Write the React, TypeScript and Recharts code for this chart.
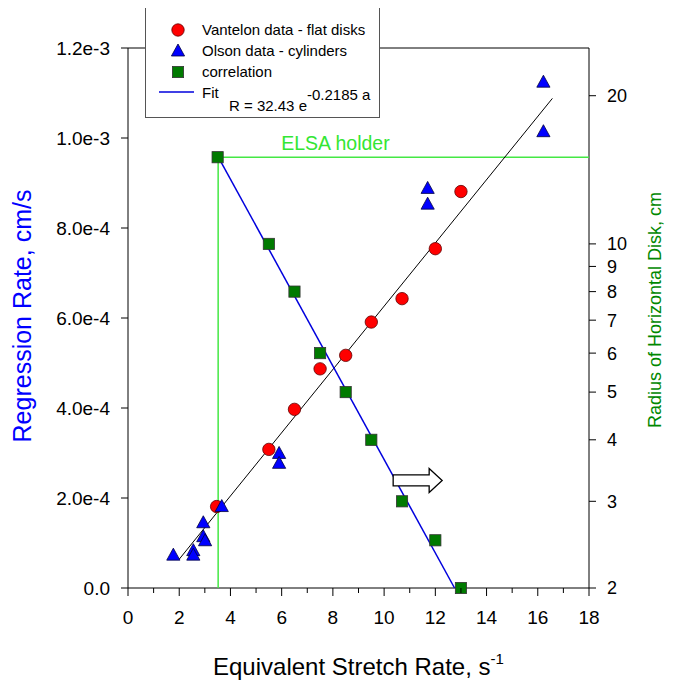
import React from "react";
import { ComposedChart, Scatter, XAxis, YAxis, ReferenceDot, Label } from "recharts";

// Vantelon data - flat disks (stretch rate s^-1, regression rate cm/s)
const vantelonX = [3.46, 5.5, 6.5, 7.5, 8.5, 9.5, 10.7, 12.0, 13.0];
const vantelonY = [1.81e-4, 3.08e-4, 3.97e-4, 4.87e-4, 5.17e-4, 5.91e-4, 6.43e-4, 7.54e-4, 8.81e-4];

// Olson data - cylinders
const olsonX = [1.77, 2.55, 2.55, 2.94, 2.94, 3.01, 3.66, 5.9, 5.9, 11.7, 11.7, 16.22, 16.22];
const olsonY = [0.73e-4, 0.83e-4, 0.73e-4, 1.45e-4, 1.14e-4, 1.05e-4, 1.81e-4, 2.99e-4, 2.77e-4, 8.88e-4, 8.53e-4, 1.124e-3, 1.014e-3];

// correlation: disk radius (cm) vs stretch rate
const corrX = [3.5, 5.5, 6.5, 7.5, 8.5, 9.5, 10.7, 12.0, 13.0];
const corrR = [15, 10, 8, 6, 5, 4, 3, 2.5, 2];

// linear fit through regression data
const rateFitX = [2.0, 16.57];
const rateFitY = [0.64e-4, 1.088e-3];

// R = 32.43 e^-0.2185 a
const radiusFitX = [3.5, 12.75];
const radiusFitR = [15.1, 2.0];

// ELSA holder guide lines
const elsaX = [3.52, 3.52, 18];
const elsaR = [2, 15, 15];

const xTicks = [0, 1, 2, 3, 4, 5, 6, 7, 8, 9, 10, 11, 12, 13, 14, 15, 16, 17, 18];
const leftTicks = [0, 0.0002, 0.0004, 0.0006, 0.0008, 0.001, 0.0012];
const rightTicks = [2, 3, 4, 5, 6, 7, 8, 9, 10, 20];

const FONT = "'Liberation Sans', Arial, Helvetica, sans-serif";

const toPoints = (xs: number[], ys: number[]) => xs.map((x, i) => ({ x, y: ys[i] }));

const fmtLeft = (v: number) => (v === 0 ? "0.0" : v.toExponential(1));

const BottomTick = (props: any) => {
  const { x, y, payload } = props;
  const v = payload.value;
  const major = v % 2 === 0;
  return (
    <g>
      <line x1={x} x2={x} y1={y} y2={y + (major ? 8 : 5)} stroke="#000" />
      {major && (
        <text x={x} y={y + 36} textAnchor="middle" fontSize={19} fontFamily={FONT} fill="#000">
          {v}
        </text>
      )}
    </g>
  );
};

const TopTick = (props: any) => {
  const { x, y, payload } = props;
  const major = payload.value % 2 === 0;
  return <line x1={x} x2={x} y1={y} y2={y - (major ? 7 : 4)} stroke="#000" />;
};

const circleShape = (p: any) => (
  <circle cx={p.cx} cy={p.cy} r={6.2} fill="#ff0000" stroke="#600000" strokeWidth={0.8} />
);
const triangleShape = (p: any) => (
  <polygon
    points={`${p.cx},${p.cy - 7} ${p.cx - 6.6},${p.cy + 5} ${p.cx + 6.6},${p.cy + 5}`}
    fill="#0000ff"
    stroke="#000040"
    strokeWidth={0.8}
  />
);
const squareShape = (p: any) => (
  <rect x={p.cx - 5.6} y={p.cy - 5.6} width={11.2} height={11.2} fill="#007a00" stroke="#333" strokeWidth={0.8} />
);
const noShape = () => <g />;

const arrowShape = (p: any) => {
  const { cx, cy } = p;
  const pts = [
    [-24.5, -5.5], [11.5, -5.5], [11.5, -12], [24.5, 0], [11.5, 12], [11.5, 5.5], [-24.5, 5.5],
  ].map(([dx, dy]) => `${cx + dx},${cy + dy}`).join(" ");
  return <polygon points={pts} fill="#fff" stroke="#000" strokeWidth={1.3} />;
};

const elsaText = (p: any) => (
  <text x={p.cx} y={p.cy} textAnchor="middle" dominantBaseline="central" fontSize={19.5} fontFamily={FONT} fill="#33e633">
    ELSA holder
  </text>
);

const LeftTitle = () => (
  <text transform="rotate(-90, 23, 308)" x={23} y={308} textAnchor="middle" fontSize={25} fontFamily={FONT} fill="#0000ff">
    Regression Rate, cm/s
  </text>
);
const RightTitle = () => (
  <text transform="rotate(-90, 653, 302)" x={653} y={302} textAnchor="middle" fontSize={18} fontFamily={FONT} fill="#008800">
    Radius of Horizontal Disk, cm
  </text>
);
const BottomTitle = () => (
  <text x={205} y={667} fontSize={24} fontFamily={FONT} fill="#000">
    Equivalent Stretch Rate, s
    <tspan fontSize={15} dy={-11}>-1</tspan>
  </text>
);

const LegendBox = () => (
  <svg
    width={260}
    height={120}
    style={{ position: "absolute", left: 137, top: -3, overflow: "visible", pointerEvents: "none" }}
  >
    <rect x={0.5} y={0.5} width={234} height={112} fill="#fff" stroke="#555" />
    <g fontFamily={FONT} fontSize={15} fill="#000">
      <circle cx={33} cy={25} r={6.2} fill="#ff0000" stroke="#600000" strokeWidth={0.8} />
      <text x={57} y={30}>Vantelon data - flat disks</text>
      <polygon points="33,39 26.4,51 39.6,51" fill="#0000ff" stroke="#000040" strokeWidth={0.8} />
      <text x={57} y={51}>Olson data - cylinders</text>
      <rect x={27.4} y={61.4} width={11.2} height={11.2} fill="#007a00" stroke="#333" strokeWidth={0.8} />
      <text x={57} y={72}>correlation</text>
      <line x1={14} x2={49} y1={87} y2={87} stroke="#0000dd" strokeWidth={1.5} />
      <text x={57} y={93}>Fit</text>
      <text x={84} y={106}>
        R = 32.43 e
        <tspan fontSize={15} dy={-11}>-0.2185 a</tspan>
      </text>
    </g>
  </svg>
);

export default function App() {
  return (
    <div style={{ position: "relative", width: 673, height: 680 }}>
      <ComposedChart
        width={673}
        height={680}
        margin={{ top: 30, right: 32, bottom: 60, left: 50 }}
        style={{ fontFamily: FONT }}
      >
        <XAxis
          xAxisId="b"
          dataKey="x"
          type="number"
          domain={[0, 18]}
          ticks={xTicks}
          interval={0}
          height={40}
          tickSize={0}
          tickMargin={0}
          tickLine={false}
          tick={BottomTick}
          stroke="#000"
        >
          <Label content={BottomTitle} />
        </XAxis>
        <XAxis
          xAxisId="t"
          orientation="top"
          dataKey="x"
          type="number"
          domain={[0, 18]}
          ticks={xTicks}
          interval={0}
          height={10}
          tickSize={0}
          tickMargin={0}
          tickLine={false}
          tick={TopTick}
          stroke="#000"
        />
        <YAxis
          yAxisId="l"
          dataKey="y"
          type="number"
          domain={[0, 0.0012]}
          ticks={leftTicks}
          interval={0}
          width={70}
          tickSize={7}
          tickMargin={11}
          tickFormatter={fmtLeft}
          tick={{ fill: "#000", fontSize: 19, fontFamily: FONT }}
          stroke="#000"
        >
          <Label content={LeftTitle} />
        </YAxis>
        <YAxis
          yAxisId="r"
          orientation="right"
          dataKey="y"
          type="number"
          scale="log"
          domain={[2, 25]}
          ticks={rightTicks}
          interval={0}
          width={60}
          tickSize={7}
          tickMargin={11}
          tick={{ fill: "#000", fontSize: 18, fontFamily: FONT }}
          stroke="#000"
        >
          <Label content={RightTitle} />
        </YAxis>

        <Scatter
          xAxisId="b"
          yAxisId="r"
          data={toPoints(elsaX, elsaR)}
          line={{ stroke: "#44e844", strokeWidth: 1.5 }}
          shape={noShape}
          isAnimationActive={false}
        />
        <Scatter
          xAxisId="b"
          yAxisId="l"
          data={toPoints(rateFitX, rateFitY)}
          line={{ stroke: "#000", strokeWidth: 1 }}
          shape={noShape}
          isAnimationActive={false}
        />
        <Scatter
          xAxisId="b"
          yAxisId="r"
          data={toPoints(radiusFitX, radiusFitR)}
          line={{ stroke: "#0000dd", strokeWidth: 1.5 }}
          shape={noShape}
          isAnimationActive={false}
        />
        <Scatter xAxisId="b" yAxisId="l" data={toPoints(vantelonX, vantelonY)} shape={circleShape} isAnimationActive={false} />
        <Scatter xAxisId="b" yAxisId="l" data={toPoints(olsonX, olsonY)} shape={triangleShape} isAnimationActive={false} />
        <Scatter xAxisId="b" yAxisId="r" data={toPoints(corrX, corrR)} shape={squareShape} isAnimationActive={false} />

        <ReferenceDot xAxisId="b" yAxisId="l" x={8.1} y={9.89e-4} shape={elsaText} />
        <ReferenceDot xAxisId="b" yAxisId="l" x={11.31} y={2.39e-4} shape={arrowShape} />
      </ComposedChart>
      <LegendBox />
    </div>
  );
}
